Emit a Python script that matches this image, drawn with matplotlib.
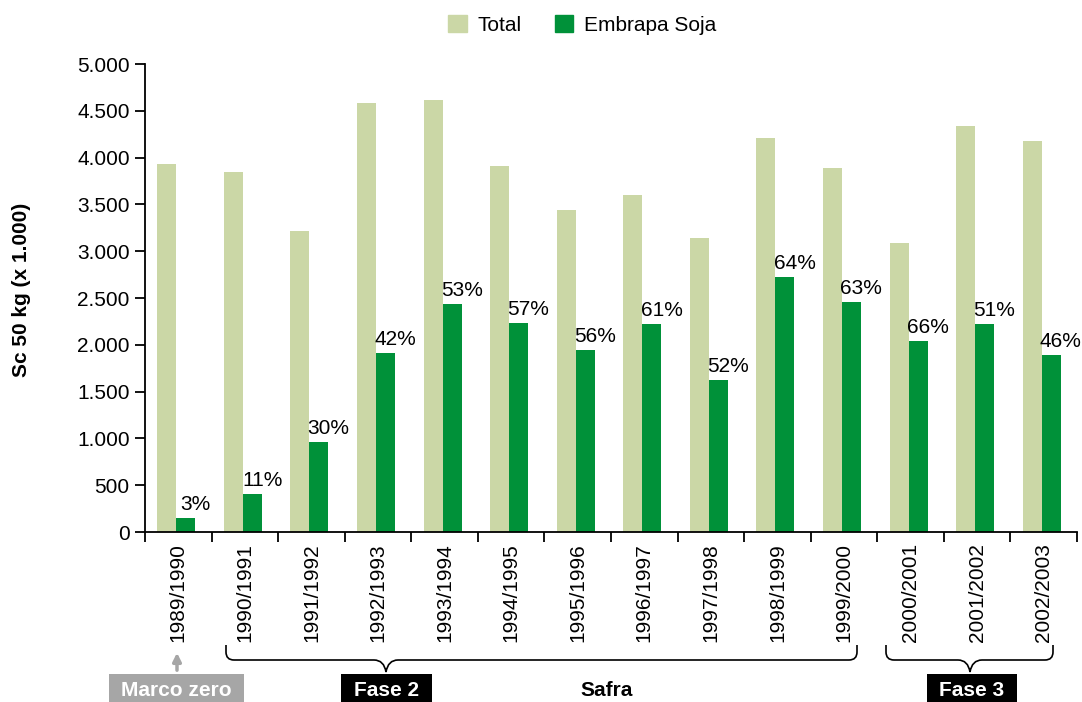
import matplotlib
matplotlib.use("Agg")
import matplotlib.pyplot as plt
from matplotlib.path import Path
from matplotlib.patches import PathPatch, Rectangle, Patch
import numpy as np

plt.rcParams['font.family'] = ['Liberation Sans', 'DejaVu Sans']

safras = ["1989/1990", "1990/1991", "1991/1992", "1992/1993", "1993/1994", "1994/1995",
          "1995/1996", "1996/1997", "1997/1998", "1998/1999", "1999/2000", "2000/2001",
          "2001/2002", "2002/2003"]
total = [3930, 3850, 3215, 4585, 4615, 3910, 3440, 3600, 3140, 4210, 3890, 3090, 4340, 4180]
embrapa = [150, 405, 960, 1910, 2435, 2230, 1945, 2220, 1625, 2725, 2455, 2040, 2220, 1890]
percent_labels = ["3%", "11%", "30%", "42%", "53%", "57%", "56%", "61%", "52%", "64%",
                  "63%", "66%", "51%", "46%"]
yticks = [0, 500, 1000, 1500, 2000, 2500, 3000, 3500, 4000, 4500, 5000]

c_total = "#CBD7A6"
c_emb = "#009139"
FS = 15

W, H = 1082, 702
fig = plt.figure(figsize=(W / 100, H / 100), dpi=100)
ax = fig.add_axes([145 / W, 1 - 532 / H, (1077 - 145) / W, (532 - 64) / H])

n = len(safras)
x = np.arange(n)
bw = 0.285
ax.bar(x - bw / 2 - 0.03, total, width=bw, color=c_total, label="Total")
ax.bar(x + bw / 2 - 0.03, embrapa, width=bw, color=c_emb, label="Embrapa Soja")

for xi, v, lab in zip(x, embrapa, percent_labels):
    ax.annotate(lab, (xi + bw / 2 - 0.03, v), xytext=(7, 3), textcoords="offset points",
                ha="center", va="bottom", fontsize=FS)

ax.set_xlim(-0.5, n - 0.5)
ax.set_ylim(0, 5000)
ax.set_yticks(yticks)
ax.set_yticklabels([f"{t:,}".replace(",", ".") for t in yticks], fontsize=FS)
ax.set_xticks(x)
ax.set_xticklabels(safras, rotation=90, fontsize=FS, va="top")
ax.set_xticks(np.arange(-0.5, n, 1.0), minor=True)
ax.tick_params(axis="x", which="major", length=0, pad=8)
ax.tick_params(axis="x", which="minor", length=7, width=1.3, direction="out")
ax.tick_params(axis="y", length=7, width=1.3, direction="out", pad=4)
for s in ["top", "right"]:
    ax.spines[s].set_visible(False)
for s in ["left", "bottom"]:
    ax.spines[s].set_linewidth(1.3)

fig.text(22 / W, 1 - 290 / H, "Sc 50 kg (x 1.000)", rotation=90, ha="center", va="center",
         fontsize=FS, fontweight="bold")

handles = [Patch(color=c_total), Patch(color=c_emb)]
fig.legend(handles, ["Total", "Embrapa Soja"], loc="center", bbox_to_anchor=(582 / W, 1 - 25 / H),
           ncol=2, frameon=False, fontsize=FS, handlelength=0.9, handleheight=0.9,
           columnspacing=1.6, handletextpad=0.5)

# overlay axes in pixel coordinates for annotations
ov = fig.add_axes([0, 0, 1, 1])
ov.set_xlim(0, W)
ov.set_ylim(H, 0)
ov.axis("off")


def brace(x0, x1, xm, ytop, yh, ytip, r=8):
    verts = [(x0, ytop), (x0, yh - r), (x0, yh), (x0 + r, yh),
             (xm - 12, yh), (xm - 2, yh), (xm, ytip),
             (xm + 2, yh), (xm + 12, yh),
             (x1 - r, yh), (x1, yh), (x1, yh - r), (x1, ytop)]
    codes = [Path.MOVETO, Path.LINETO, Path.CURVE3, Path.CURVE3,
             Path.LINETO, Path.CURVE3, Path.CURVE3,
             Path.CURVE3, Path.CURVE3,
             Path.LINETO, Path.CURVE3, Path.CURVE3, Path.LINETO]
    ov.add_patch(PathPatch(Path(verts, codes), fill=False, lw=1.2, color="black"))


brace(226, 857, 386, 645, 660, 672)
brace(886, 1053, 970, 645, 660, 672)


def box(x0, x1, text, fc):
    ov.add_patch(Rectangle((x0, 674), x1 - x0, 30, facecolor=fc, edgecolor="none"))
    ov.text((x0 + x1) / 2, 690, text, ha="center", va="center", color="white",
            fontsize=FS, fontweight="bold")


box(109, 244, "Marco zero", "#A6A6A6")
box(341, 432, "Fase 2", "black")
box(927, 1017, "Fase 3", "black")
ov.text(607, 690, "Safra", ha="center", va="center", fontsize=FS, fontweight="bold")
ov.annotate("", xy=(177, 650), xytext=(177, 673),
            arrowprops=dict(arrowstyle="-|>", color="#A6A6A6", lw=2.5, mutation_scale=12))

fig.savefig("out.png", dpi=100)
